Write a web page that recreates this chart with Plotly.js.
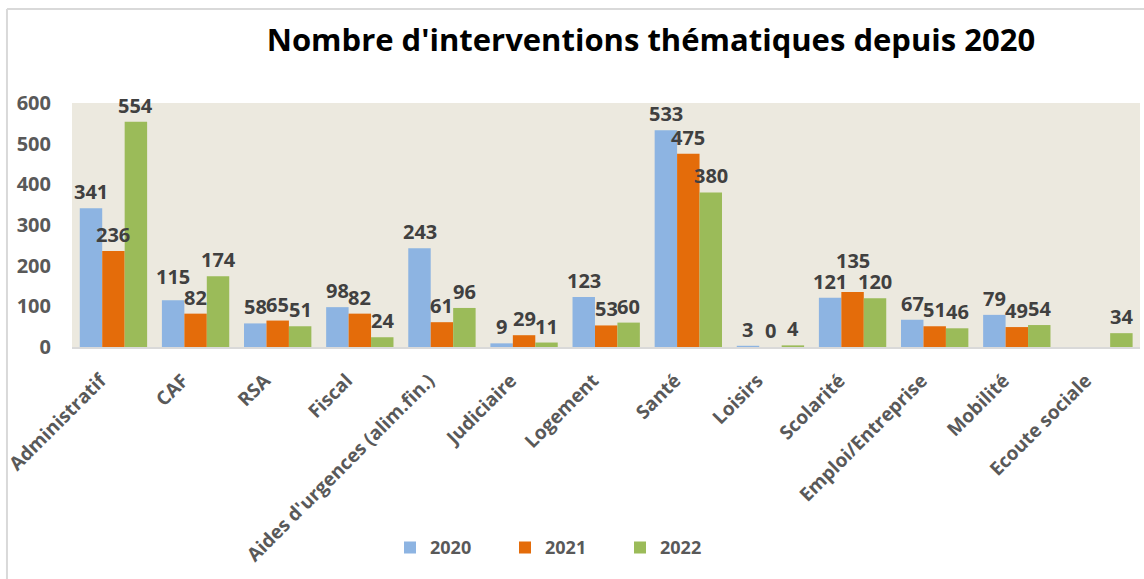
<!DOCTYPE html>
<html>
<head>
<meta charset="utf-8">
<script src="https://cdn.plot.ly/plotly-3.0.1.min.js"></script>
<style>html,body{margin:0;padding:0;background:#fff;}#chart{width:1144px;height:579px;}</style>
</head>
<body>
<div id="chart"></div>
<script>
const categories = ["Administratif","CAF","RSA","Fiscal","Aides d'urgences (alim.fin.)","Judiciaire","Logement","Santé","Loisirs","Scolarité","Emploi/Entreprise","Mobilité","Ecoute sociale"];
const seriesNames = ["2020","2021","2022"];
const values2020 = [341,115,58,98,243,9,123,533,3,121,67,79,null];
const values2021 = [236,82,65,82,61,29,53,475,0,135,51,49,null];
const values2022 = [554,174,51,24,96,11,60,380,4,120,46,54,34];
const colors = ["#8DB4E2","#E46C0A","#9BBB59"];

const FONT = "'Open Sans', sans-serif";
const allSeries = [values2020, values2021, values2022];

const BARGAP = 0.18;
const LABEL_SIZE = 20;
const PLOT_H = 244, Y_MAX = 600;
const unitsPerPx = Y_MAX / PLOT_H;
const H = 21 * unitsPerPx;          // label height in data units
const BAR_PX = 23;                   // approx bar width in px
const digitW = 0.572 * LABEL_SIZE;

const traces = allSeries.map((vals, i) => ({
  type: 'bar',
  name: seriesNames[i],
  x: categories,
  y: vals,
  marker: {color: colors[i]},
  hoverinfo: 'x+y'
}));

// data labels: placed above bars, nudged upward to avoid collisions
const barW = (1 - BARGAP) / allSeries.length;
const annotations = [];
categories.forEach((c, ci) => {
  const vals = allSeries.map(s => s[ci]);
  const base = vals.slice();
  const w = vals.map(v => v === null ? 0 : String(v).length * digitW);
  for (let iter = 0; iter < 4; iter++) {
    for (let k = 0; k < vals.length - 1; k++) {
      const a = k, b = k + 1;
      if (vals[a] === null || vals[b] === null) continue;
      if ((w[a] + w[b]) / 2 <= BAR_PX + 1) continue;
      if (Math.abs(base[a] - base[b]) < H) {
        if (base[a] >= base[b]) base[a] = base[b] + H; else base[b] = base[a] + H;
      }
    }
  }
  vals.forEach((v, si) => {
    if (v === null) return;
    annotations.push({
      xref: 'x', yref: 'y',
      x: ci + (si - (allSeries.length - 1) / 2) * barW,
      y: base[si], yanchor: 'bottom', yshift: 1,
      text: String(v), showarrow: false,
      font: {family: FONT, size: LABEL_SIZE, color: '#404040', weight: 'bold'}
    });
  });
});

const layout = {
  width: 1144, height: 579,
  margin: {l: 72, r: 4, t: 103, b: 232},
  paper_bgcolor: '#ffffff',
  plot_bgcolor: '#ECE9DF',
  barmode: 'group',
  bargap: BARGAP,
  bargroupgap: 0,
  title: {
    text: "Nombre d'interventions thématiques depuis 2020",
    font: {family: FONT, size: 31, color: '#000000', weight: 'bold'},
    x: 0.569, xref: 'container', xanchor: 'center',
    y: 0.931, yref: 'container', yanchor: 'middle'
  },
  xaxis: {
    type: 'category',
    tickangle: -45,
    tickfont: {family: FONT, size: 19, color: '#595959', weight: 'bold'},
    showline: true, linecolor: '#D9D9D9', linewidth: 2,
    ticks: '', showgrid: false,
    ticklabelstandoff: 13,
    ticklabelshift: -13
  },
  yaxis: {
    range: [0, Y_MAX],
    dtick: 100,
    showgrid: false, zeroline: false, showline: false,
    ticks: '',
    ticklabelstandoff: 20,
    tickfont: {family: FONT, size: 20, color: '#595959', weight: 'bold'}
  },
  showlegend: true,
  legend: {
    orientation: 'h',
    xref: 'container', x: 390 / 1144, xanchor: 'left',
    yref: 'container', y: 0.054, yanchor: 'middle',
    font: {family: FONT, size: 18, color: '#595959', weight: 'bold'},
    itemwidth: 30,
    entrywidth: 70
  },
  annotations: annotations,
  shapes: [
    {type: 'line', xref: 'paper', yref: 'paper', x0: -0.0609, x1: -0.0609, y0: -1, y1: 1.385, line: {color: '#D9D9D9', width: 2}},
    {type: 'line', xref: 'paper', yref: 'paper', x0: -0.0609, x1: 1.1, y0: 1.385, y1: 1.385, line: {color: '#D9D9D9', width: 2}}
  ]
};

Plotly.newPlot('chart', traces, layout, {displayModeBar: false, staticPlot: true});
</script>
</body>
</html>
